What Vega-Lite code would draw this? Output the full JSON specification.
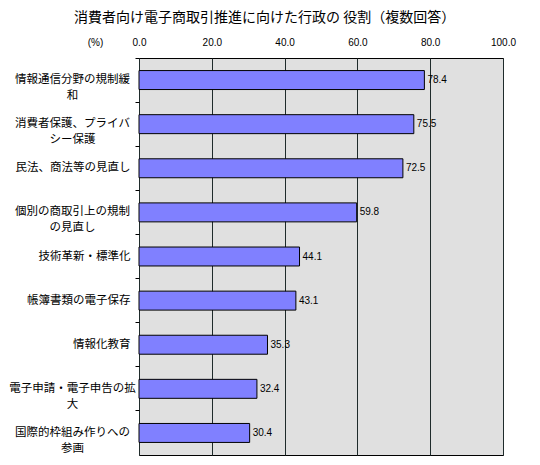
{
  "$schema": "https://vega.github.io/schema/vega-lite/v6.json",
  "width": 364,
  "height": 397,
  "autosize": {"type": "none"},
  "padding": {"left": 139, "top": 58, "right": 37, "bottom": 10},
  "background": "white",
  "title": {
    "text": "消費者向け電子商取引推進に向けた行政の 役割（複数回答）",
    "anchor": "start",
    "frame": "group",
    "dx": -65,
    "font": "Noto Sans CJK JP",
    "fontSize": 14,
    "fontWeight": "normal",
    "color": "black",
    "offset": 12
  },
  "config": {
    "view": {"fill": "#E0E0E0", "stroke": "black", "strokeWidth": 1}
  },
  "data": {
    "values": [
      {"item": "情報通信分野の規制緩\n和", "pct": 78.4},
      {"item": "消費者保護、プライバ\nシー保護", "pct": 75.5},
      {"item": "民法、商法等の見直し", "pct": 72.5},
      {"item": "個別の商取引上の規制\nの見直し", "pct": 59.8},
      {"item": "技術革新・標準化", "pct": 44.1},
      {"item": "帳簿書類の電子保存", "pct": 43.1},
      {"item": "情報化教育", "pct": 35.3},
      {"item": "電子申請・電子申告の拡\n大", "pct": 32.4},
      {"item": "国際的枠組み作りへの\n参画", "pct": 30.4}
    ]
  },
  "encoding": {
    "y": {
      "field": "item",
      "type": "nominal",
      "sort": null,
      "title": null,
      "scale": {"paddingInner": 0, "paddingOuter": 0},
      "axis": {
        "orient": "left",
        "domain": false,
        "grid": false,
        "bandPosition": 0,
        "tickSize": 4,
        "tickColor": "black",
        "labelExpr": "split(datum.value, '\\n')",
        "labelFont": "Noto Sans CJK JP",
        "labelFontSize": 11.5,
        "labelLineHeight": 16,
        "labelColor": "black",
        "labelLimit": 200,
        "labelAlign": {"condition": {"test": "indexof(datum.value, '\\n') >= 0", "value": "center"}, "value": "right"},
        "labelPadding": {"condition": {"test": "indexof(datum.value, '\\n') >= 0", "value": 63}, "value": 5}
      }
    },
    "x": {
      "field": "pct",
      "type": "quantitative",
      "scale": {"domain": [0, 100], "nice": false},
      "title": "(%)",
      "axis": {
        "orient": "top",
        "values": [0, 20, 40, 60, 80, 100],
        "format": ".1f",
        "domain": false,
        "ticks": false,
        "grid": true,
        "gridColor": "#1f2b2b",
        "gridOpacity": 1,
        "labelFont": "Liberation Sans",
        "labelFontSize": 10,
        "labelColor": "black",
        "labelPadding": 11,
        "labelFlush": false,
        "titleFont": "Liberation Sans",
        "titleFontSize": 10,
        "titleFontWeight": "normal",
        "titleColor": "black",
        "titleX": -44,
        "titleY": -16,
        "titleAlign": "center",
        "titleBaseline": "middle",
        "titleAngle": 0
      }
    }
  },
  "layer": [
    {
      "mark": {"type": "bar", "fill": "#8080FF", "stroke": "black", "strokeWidth": 1, "height": {"band": 0.43}}
    },
    {
      "mark": {"type": "text", "align": "left", "baseline": "middle", "dx": 3, "font": "Liberation Sans", "fontSize": 10, "color": "black"},
      "encoding": {"text": {"field": "pct", "type": "quantitative", "format": ".1f"}}
    }
  ]
}
